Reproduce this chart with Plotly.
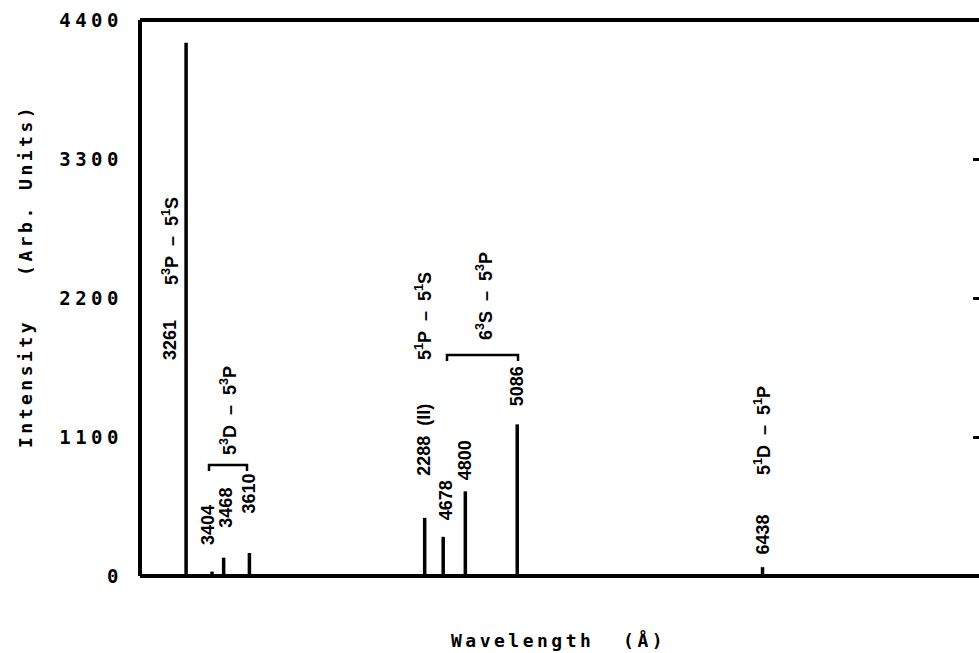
import plotly.graph_objects as go

# ---- data ----
line_wavelengths = [3261, 3404, 3468, 3610, 4576, 4678, 4800, 5086, 6438]   # position on the wavelength axis (2288 Å seen in 2nd order)
line_intensities = [4220, 35, 145, 182, 460, 310, 670, 1200, 70]
line_labels = ["3261", "3404", "3468", "3610", "2288\u00a0\u00a0(II)", "4678", "4800", "5086", "6438"]

transition_labels = [
    "5<sup>3</sup>P\u00a0\u00a0–\u00a0\u00a05<sup>1</sup>S",
    "5<sup>3</sup>D\u00a0\u00a0–\u00a0\u00a05<sup>3</sup>P",
    "5<sup>1</sup>P\u00a0\u00a0–\u00a0\u00a05<sup>1</sup>S",
    "6<sup>3</sup>S\u00a0\u00a0–\u00a0\u00a05<sup>3</sup>P",
    "5<sup>1</sup>D\u00a0\u00a0–\u00a0\u00a05<sup>1</sup>P",
]

y_tick_values = [0, 1100, 2200, 3300, 4400]
y_tick_labels = ["0", "1100", "2200", "3300", "4400"]

x_range = [3007, 7631]
y_range = [0, 4400]

# ---- layout geometry (pixels) ----
W, H = 979, 653
ML, MR, MT, MB = 140, 0, 20, 77
PW = W - ML - MR
PH = H - MT - MB


def xd(px):
    return x_range[0] + (px - ML) / PW * (x_range[1] - x_range[0])


def yd(py):
    return y_range[0] + (MT + PH - py) / PH * (y_range[1] - y_range[0])


# label placement: (x shift in px from its line, y centre in px)
line_label_place = [(-16, 340), (-4, 525), (2, 508), (0, 493), (-1, 440),
                    (3, 500), (0, 460), (0, 386), (0, 535)]
# transition label centres (px)
transition_place = [(170, 241), (228, 411), (423, 316), (484, 296), (762, 431)]
# brackets: (x_left px, x_right px, y px)
brackets = [(209, 247, 465), (447, 518, 355)]

lab_font = dict(family="Liberation Sans", size=18, color="black")
mono = "DejaVu Sans Mono"

# ---- spectral lines ----
xs, ys = [], []
for w, v in zip(line_wavelengths, line_intensities):
    xs += [w, w, None]
    ys += [0, v, None]

fig = go.Figure()
fig.add_trace(go.Scatter(x=xs, y=ys, mode="lines",
                         line=dict(color="black", width=3.5),
                         hoverinfo="skip", showlegend=False))
# invisible trace for the right-hand tick axis
fig.add_trace(go.Scatter(x=[x_range[0]], y=[0], yaxis="y2", mode="markers",
                         marker=dict(opacity=0), hoverinfo="skip", showlegend=False))

annotations = []
for w, lab, (dx, py) in zip(line_wavelengths, line_labels, line_label_place):
    annotations.append(dict(x=w, y=yd(py), xref="x", yref="y", xshift=dx,
                            text="<b>" + lab + "</b>", textangle=-90, showarrow=False,
                            xanchor="center", yanchor="middle", font=lab_font))
for lab, (px, py) in zip(transition_labels, transition_place):
    annotations.append(dict(x=xd(px), y=yd(py), xref="x", yref="y",
                            text="<b>" + lab + "</b>", textangle=-90, showarrow=False,
                            xanchor="center", yanchor="middle", font=lab_font))

# axis titles
annotations.append(dict(x=0, xref="paper", xshift=25 - ML, y=yd(276) / y_range[1], yref="paper",
                        text='<span style="letter-spacing:3.5px">Intensity\u00a0\u00a0\u00a0(Arb.\u00a0Units)</span>',
                        textangle=-90, showarrow=False, xanchor="center", yanchor="middle",
                        font=dict(family=mono, size=18, color="black", weight=600)))
annotations.append(dict(x=xd(558), xref="x", y=0, yref="paper", yshift=-(640 - (MT + PH)),
                        text='<span style="letter-spacing:3.5px">Wavelength\u00a0\u00a0(Å)</span>',
                        showarrow=False, xanchor="center", yanchor="middle",
                        font=dict(family=mono, size=18, color="black", weight=600)))

shapes = []
for x0, x1, py in brackets:
    shapes.append(dict(type="path", xref="x", yref="y",
                       path=f"M {xd(x0)},{yd(py + 6)} L {xd(x0)},{yd(py)} L {xd(x1)},{yd(py)} L {xd(x1)},{yd(py + 6)}",
                       line=dict(color="black", width=2.5)))
# frame: left, bottom, top
shapes.append(dict(type="line", xref="paper", yref="paper", x0=0, x1=0, y0=0, y1=1,
                   line=dict(color="black", width=4)))
shapes.append(dict(type="line", xref="paper", yref="paper", x0=0, x1=1, y0=0, y1=0,
                   line=dict(color="black", width=4)))
shapes.append(dict(type="line", xref="paper", yref="paper", x0=0, x1=1, y0=1, y1=1,
                   line=dict(color="black", width=4)))

fig.update_layout(
    width=W, height=H,
    margin=dict(l=ML, r=MR, t=MT, b=MB, pad=0),
    paper_bgcolor="white", plot_bgcolor="white",
    showlegend=False,
    xaxis=dict(range=x_range, showgrid=False, zeroline=False, showline=False,
               showticklabels=False, ticks=""),
    yaxis=dict(range=y_range, showgrid=False, zeroline=False, showline=False,
               tickvals=y_tick_values,
               ticktext=['<span style="letter-spacing:4.5px">' + t + '</span>' for t in y_tick_labels],
               ticks="", ticklabelstandoff=16,
               tickfont=dict(family=mono, size=19, color="black", weight=600)),
    yaxis2=dict(range=y_range, overlaying="y", side="right", anchor="x",
                showgrid=False, zeroline=False, showline=False, showticklabels=False,
                tickvals=[1100, 2200, 3300], ticks="inside", ticklen=6, tickwidth=3,
                tickcolor="black"),
    annotations=annotations,
    shapes=shapes,
)

fig.write_html("out.html", config={"displayModeBar": False},
               post_script="document.body.style.margin='0';document.body.style.overflow='hidden';")
